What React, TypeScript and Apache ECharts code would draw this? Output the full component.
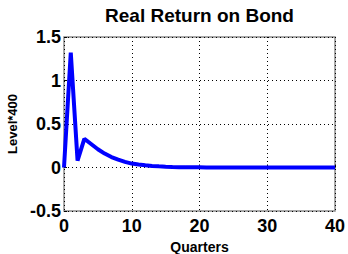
import React, { useEffect, useRef } from "react";
import * as echarts from "echarts";

const quarters = Array.from({ length: 41 }, (_, i) => i);
const realReturn = [
  0, 1.32, 0.08, 0.33, 0.27, 0.21, 0.16, 0.12, 0.09, 0.065,
  0.045, 0.034, 0.025, 0.018, 0.013, 0.009, 0.006, 0.004, 0.003, 0.002,
  0.0015, 0.001, 0.001, 0.001, 0.0005, 0.0005, 0.0005, 0, 0, 0,
  0, 0, 0, 0, 0, 0, 0, 0, 0, 0, 0,
];
const xTicks = [0, 10, 20, 30, 40];
const yTicks = [-0.5, 0, 0.5, 1, 1.5];
const titleText = "Real Return on Bond";
const xName = "Quarters";
const yName = "Level*400";

const FONT = "'Liberation Sans', Arial, sans-serif";

export default function App() {
  const ref = useRef<HTMLDivElement>(null);
  useEffect(() => {
    if (!ref.current) return;
    const chart = echarts.init(ref.current, undefined, { renderer: "svg" });
    const gridLeft = 64, gridRight = 13, gridTop = 37, gridBottom = 43;
    chart.setOption({
      animation: false,
      backgroundColor: "#ffffff",
      textStyle: { fontFamily: FONT },
      graphic: [
        {
          type: "text",
          x: (gridLeft + (348 - gridRight)) / 2,
          y: 15,
          style: {
            text: titleText,
            fontSize: 19,
            fontWeight: "bold",
            fontFamily: FONT,
            fill: "#000",
            textAlign: "center",
            textVerticalAlign: "middle",
          },
        },
      ],
      grid: {
        left: gridLeft,
        right: gridRight,
        top: gridTop,
        bottom: gridBottom,
        outerBoundsMode: "none",
        containLabel: false,
        show: true,
        borderColor: "#8a8a8a",
        borderWidth: 1.5,
        backgroundColor: "transparent",
      },
      xAxis: {
        type: "value",
        min: xTicks[0],
        max: xTicks[xTicks.length - 1],
        interval: 10,
        name: xName,
        nameLocation: "middle",
        nameGap: 29,
        nameTextStyle: { fontSize: 14, fontWeight: "bold", color: "#000", fontFamily: FONT },
        axisLine: { show: false },
        axisTick: { show: true, inside: true, length: 3, lineStyle: { color: "#000" } },
        axisLabel: { fontSize: 18, fontWeight: "bold", color: "#000", margin: 6, fontFamily: FONT },
        splitLine: { show: true, lineStyle: { color: "#000", type: [1, 3], width: 1 } },
      },
      yAxis: {
        type: "value",
        min: yTicks[0],
        max: yTicks[yTicks.length - 1],
        interval: 0.5,
        name: yName,
        nameLocation: "middle",
        nameGap: 45,
        nameRotate: 90,
        nameTextStyle: { fontSize: 13, fontWeight: "bold", color: "#000", fontFamily: FONT },
        axisLine: { show: false },
        axisTick: { show: true, inside: true, length: 3, lineStyle: { color: "#000" } },
        axisLabel: { fontSize: 18, fontWeight: "bold", color: "#000", margin: 3, fontFamily: FONT },
        splitLine: { show: true, lineStyle: { color: "#000", type: [1, 3], width: 1 } },
      },
      series: [
        {
          type: "line",
          data: quarters.map((q, i) => [q, realReturn[i]]),
          showSymbol: false,
          lineStyle: { color: "#0000ff", width: 4 },
          z: 5,
        },
      ],
    });
    return () => chart.dispose();
  }, []);
  return <div ref={ref} style={{ width: 348, height: 254, position: "absolute", left: 0, top: 0 }} />;
}
